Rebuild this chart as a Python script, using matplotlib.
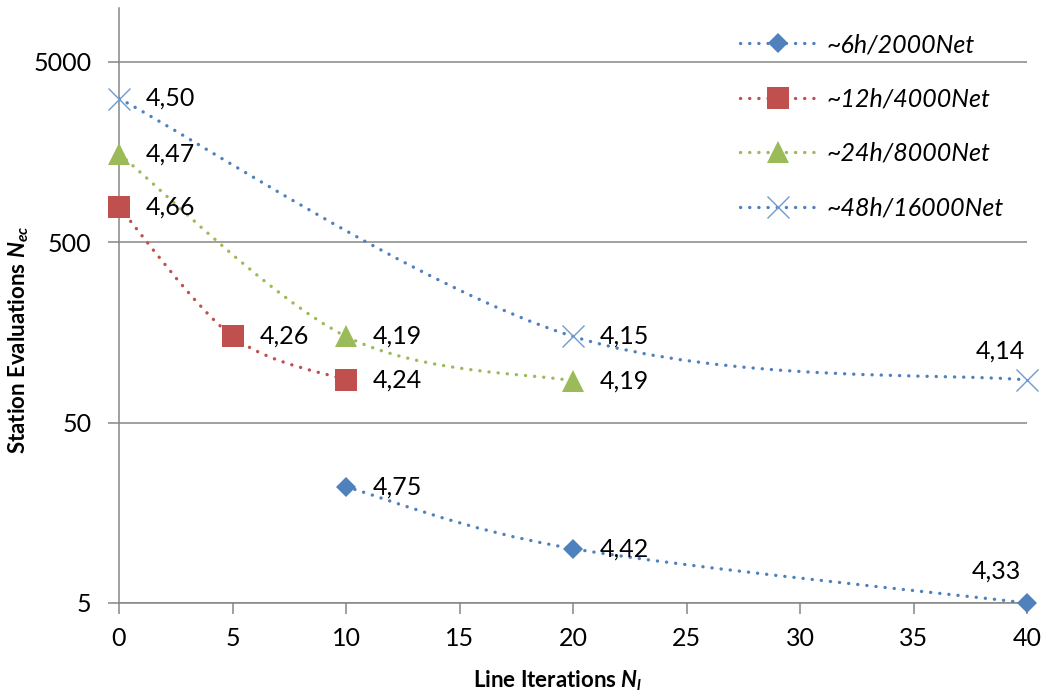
import numpy as np
import matplotlib
matplotlib.use('Agg')
import matplotlib.pyplot as plt
from matplotlib.path import Path
from matplotlib.patches import PathPatch
from matplotlib.lines import Line2D

plt.rcParams['font.family'] = ['Lato', 'DejaVu Sans']
plt.rcParams['mathtext.fontset'] = 'custom'
plt.rcParams['mathtext.it'] = 'Lato:bold:italic'
plt.rcParams['mathtext.rm'] = 'Lato:bold'
plt.rcParams['mathtext.bf'] = 'Lato:bold'

# Daten
labels = ['~6h/2000Net', '~12h/4000Net', '~24h/8000Net', '~48h/16000Net']

x_6h = [10, 20, 40]
y_6h = [22, 10, 5]
t_6h = ['4,75', '4,42', '4,33']

x_12h = [0, 5, 10]
y_12h = [780, 150, 86]
t_12h = ['4,66', '4,26', '4,24']

x_24h = [0, 10, 20]
y_24h = [1540, 150, 85]
t_24h = ['4,47', '4,19', '4,19']

x_48h = [0, 20, 40]
y_48h = [3120, 150, 86]
t_48h = ['4,50', '4,15', '4,14']

x_ticks = [0, 5, 10, 15, 20, 25, 30, 35, 40]
y_ticks = [5, 50, 500, 5000]

blue = '#4F81BD'
red = '#C0504D'
green = '#9BBB59'
light_blue = '#6E9AD0'
grey = '#868686'


def smooth_path(xs, ys):
    # Excel-artige Glaettung: Bezier mit Catmull-Rom Kontrollpunkten in (x, log y)
    px = np.asarray(xs, float)
    py = np.log10(np.asarray(ys, float))
    n = len(px)
    verts = [(px[0], py[0])]
    codes = [Path.MOVETO]
    for i in range(n - 1):
        i0 = max(i - 1, 0)
        i3 = min(i + 2, n - 1)
        c1 = (px[i] + (px[i + 1] - px[i0]) / 6, py[i] + (py[i + 1] - py[i0]) / 6)
        c2 = (px[i + 1] - (px[i3] - px[i]) / 6, py[i + 1] - (py[i3] - py[i]) / 6)
        verts += [c1, c2, (px[i + 1], py[i + 1])]
        codes += [Path.CURVE4] * 3
    verts = np.array(verts)
    verts[:, 1] = 10 ** verts[:, 1]
    return Path(verts, codes)


fig = plt.figure(figsize=(10.45, 6.99), dpi=100)
ax = fig.add_axes([119 / 1045, 1 - 603 / 699, 908 / 1045, 595 / 699])
ax.set_yscale('log')
ax.set_xlim(0, 40)
ax.set_ylim(5, 9900)

dots = (0, (0.05, 2.7))
lw_line = 2.4
series = [
    (x_6h, y_6h, t_6h, blue, 'D', 10.3, blue, 0),
    (x_12h, y_12h, t_12h, red, 's', 15.5, red, 0),
    (x_24h, y_24h, t_24h, green, '^', 15.5, green, 0),
    (x_48h, y_48h, t_48h, blue, 'x', 15.5, light_blue, 1.0),
]

handles = []
for xs, ys, ts, c, m, ms, mc, mew in series:
    patch = PathPatch(smooth_path(xs, ys), fill=False, edgecolor=c, lw=lw_line,
                      linestyle=dots, capstyle='round', zorder=3)
    ax.add_patch(patch)
    ax.plot(xs, ys, linestyle='none', marker=m, ms=ms, color=mc,
            markeredgewidth=mew, zorder=4, clip_on=False)
    for xv, yv, tv in zip(xs, ys, ts):
        if xv == 40:
            off = (-19, 21) if yv > 20 else (-22, 23)
            ax.annotate(tv, (xv, yv), xytext=off, textcoords='offset points',
                        ha='center', va='center', fontsize=18, zorder=5)
        else:
            ax.annotate(tv, (xv, yv), xytext=(19.5, 0), textcoords='offset points',
                        ha='left', va='center', fontsize=18, zorder=5)
    handles.append(Line2D([], [], color=c, lw=lw_line, linestyle=dots,
                          dash_capstyle='round', marker=m, ms=ms, mfc=mc, mec=mc,
                          markeredgewidth=mew))

ax.set_xticks(x_ticks)
ax.set_xticklabels([str(v) for v in x_ticks])
ax.set_yticks(y_ticks)
ax.set_yticklabels([str(v) for v in y_ticks])
ax.yaxis.set_minor_locator(matplotlib.ticker.NullLocator())
ax.tick_params(axis='both', direction='out', length=8, width=1.1, color=grey,
               labelsize=18, labelcolor='black')
ax.tick_params(axis='y', pad=12)
ax.tick_params(axis='x', pad=9)

ax.yaxis.grid(True, color=grey, lw=1.1)
ax.set_axisbelow(True)
for s in ['top', 'right']:
    ax.spines[s].set_visible(False)
for s in ['left', 'bottom']:
    ax.spines[s].set_color(grey)
    ax.spines[s].set_linewidth(1.1)

ax.set_xlabel(r'Line Iterations $N_l$', fontsize=16, fontweight='bold')
ax.xaxis.label.set_ha('left')
ax.xaxis.set_label_coords((473 - 119) / 908, (603 - 668) / 595)
ax.set_ylabel(r'Station Evaluations $N_{ec}$', fontsize=16, fontweight='bold')
ax.yaxis.set_label_coords((31 - 119) / 908, (603 - 340) / 595)

fig.legend(handles, labels, loc='upper left', bbox_to_anchor=(740 / 1045, 1 - 33 / 699),
           frameon=False, prop={'style': 'italic', 'size': 18}, handlelength=3.05,
           handletextpad=0.4, labelspacing=1.26, borderpad=0, borderaxespad=0,
           numpoints=1)

fig.savefig('out.png', dpi=100)
